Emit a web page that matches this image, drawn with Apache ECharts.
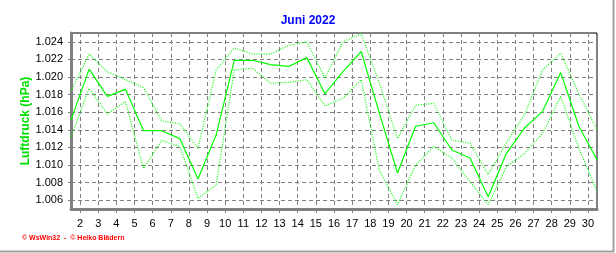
<!DOCTYPE html>
<html><head><meta charset="utf-8">
<script src="https://cdn.jsdelivr.net/npm/echarts@6/dist/echarts.min.js"></script>
<style>html,body{margin:0;padding:0;background:#fff}#c{width:616px;height:253px}</style>
</head><body><div id="c"></div>
<script>
var days = [1,2,3,4,5,6,7,8,9,10,11,12,13,14,15,16,17,18,19,20,21,22,23,24,25,26,27,28,29,30];
var meanP = [1.0151,1.0209,1.0178,1.0186,1.0139,1.0139,1.0130,1.0084,1.0134,1.0219,1.0219,1.0214,1.0212,1.0222,1.0181,1.0206,1.0229,1.0159,1.0091,1.0144,1.0148,1.0117,1.0108,1.0064,1.0113,1.0142,1.0161,1.0205,1.0144,1.0106];
var maxP = [1.0184,1.0226,1.0206,1.0197,1.0188,1.0150,1.0147,1.0119,1.0208,1.0233,1.0226,1.0226,1.0236,1.0240,1.0199,1.0240,1.0249,1.0193,1.0130,1.0168,1.0170,1.0128,1.0125,1.0089,1.0125,1.0157,1.0208,1.0227,1.0181,1.0140];
var minP = [1.0132,1.0187,1.0158,1.0172,1.0096,1.0128,1.0121,1.0062,1.0077,1.0208,1.0210,1.0193,1.0194,1.0197,1.0167,1.0176,1.0197,1.0094,1.0055,1.0100,1.0121,1.0108,1.0081,1.0055,1.0098,1.0113,1.0136,1.0178,1.0119,1.0070];
var yTicks = [1.006,1.008,1.010,1.012,1.014,1.016,1.018,1.020,1.022,1.024];
var xLabels = [2,3,4,5,6,7,8,9,10,11,12,13,14,15,16,17,18,19,20,21,22,23,24,25,26,27,28,29,30];
var titleText = 'Juni 2022';
var yName = 'Luftdruck (hPa)';
var footer = '\u00a9 WsWin32  -  \u00a9 Heiko Bl\u00e4dern';

function pairs(arr){ return days.map(function(d,i){ return [d, arr[i]]; }); }
var xTickPos = xLabels.map(function(d){ return d - 0.5; });

var chart = echarts.init(document.getElementById('c'), null, {renderer:'canvas'});
chart.setOption({
  animation:false,
  backgroundColor:'#ffffff',
  title:{text:titleText, left:'center', top:10, textStyle:{color:'#0000ff', fontSize:12, fontWeight:'bold', fontFamily:'Liberation Sans, Arial, sans-serif'}},
  grid:{left:71, right:19, top:33, bottom:44, show:true, borderColor:'#000', borderWidth:1, backgroundColor:'transparent'},
  xAxis:{
    type:'value', min:1, max:30, interval:1,
    axisLine:{show:true, onZero:false, lineStyle:{color:'#808080', width:3}},
    axisTick:{show:true, length:4, inside:false, customValues:xTickPos, lineStyle:{color:'#808080'}},
    minorTick:{show:true, splitNumber:4, length:2, lineStyle:{color:'#808080'}},
    axisLabel:{customValues:xTickPos, margin:9, color:'#000', fontSize:11, fontFamily:'Liberation Sans, Arial, sans-serif',
      formatter:function(v){ return String(Math.round(v+0.5)); }},
    splitLine:{show:true, lineStyle:{color:'#808080', type:[4,3], width:1}}
  },
  yAxis:{
    type:'value', min:1.005, max:1.025,
    name:yName, nameLocation:'middle', nameGap:39, nameRotate:90, nameMoveOverlap:false,
    nameTextStyle:{color:'#00e000', fontSize:12, fontWeight:'bold', fontFamily:'Liberation Sans, Arial, sans-serif'},
    axisLine:{show:true, lineStyle:{color:'#808080', width:3}},
    axisTick:{show:true, length:3, customValues:yTicks, lineStyle:{color:'#808080'}},
    axisLabel:{customValues:yTicks, margin:8, color:'#000', fontSize:11, fontFamily:'Liberation Sans, Arial, sans-serif',
      formatter:function(v){ return v.toFixed(3); }},
    splitLine:{show:true, lineStyle:{color:'#808080', type:[4,3], width:1}}
  },
  series:[
    {type:'line', data:pairs(maxP), symbol:'none', lineStyle:{color:'#00ff00', width:1.2, type:[1,1.5]}},
    {type:'line', data:pairs(minP), symbol:'none', lineStyle:{color:'#00ff00', width:1.2, type:[1,1.5]}},
    {type:'line', data:pairs(meanP), symbol:'none', lineStyle:{color:'#00ff00', width:1.2}}
  ],
  graphic:[
    {type:'text', left:22, top:235, style:{text:footer, fill:'#ff0000', fontSize:7, fontWeight:'bold', fontFamily:'Liberation Sans, Arial, sans-serif'}},
    {type:'line', shape:{x1:0, y1:251.5, x2:614, y2:251.5}, style:{stroke:'#a0a0a0', lineWidth:2}},
    {type:'line', shape:{x1:613.5, y1:0, x2:613.5, y2:252}, style:{stroke:'#a0a0a0', lineWidth:2}}
  ]
});
</script></body></html>
